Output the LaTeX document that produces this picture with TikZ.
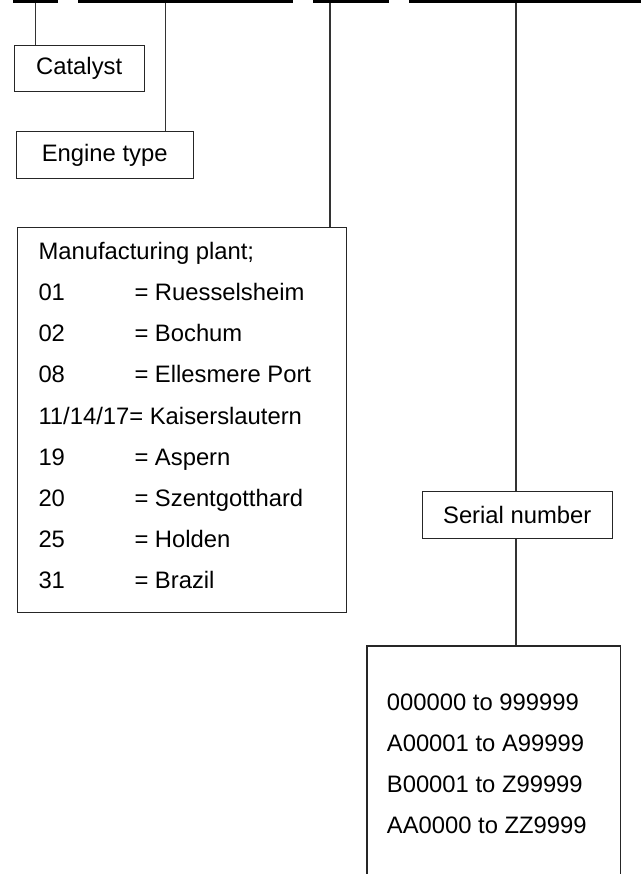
\documentclass[tikz,border=0pt]{standalone}
\usepackage{fontspec}
\setmainfont{Liberation Sans}
\begin{document}
\begin{tikzpicture}[x=1pt,y=-1pt,
  box/.style={draw=black!85, line width=1.1pt, inner sep=0pt, font=\fontsize{23.8}{28}\selectfont},
  txt/.style={inner sep=0pt, anchor=base west, font=\fontsize{23.8}{28}\selectfont},
  bar/.style={fill=black, inner sep=0pt, outer sep=0pt, anchor=north west},
  conn/.style={draw=black!80, line width=1.1pt}]
\clip (0,0) rectangle (644,874);
\fill[white] (0,0) rectangle (644,874);
% bars
\node[bar, minimum width=45.6pt, minimum height=3.3pt] (bar1) at (12.7,0) {};
\node[bar, minimum width=215.6pt, minimum height=3.3pt] (bar2) at (77.7,0) {};
\node[bar, minimum width=76.6pt, minimum height=3.3pt] (bar3) at (312.7,0) {};
\node[bar, minimum width=232.5pt, minimum height=3.3pt] (bar4) at (408.5,0) {};
% boxes
\node[box, minimum width=130.3pt, minimum height=46pt] (cat) at (79.2,68.3) {Catalyst\hspace{5pt}};
\node[box, minimum width=177.3pt, minimum height=47.4pt] (eng) at (104.7,155) {Engine type\hspace{19pt}};
\node[box, minimum width=329.4pt, minimum height=385.4pt] (man) at (182,420) {};
\node[box, minimum width=190.3pt, minimum height=46.3pt] (ser) at (517.2,514.9) {Serial number};
\node[box, minimum width=253.7pt, minimum height=254pt] (rng) at (493.85,773) {};
% manufacturing plant text
\node[txt] (m0) at (38.3,259.3) {Manufacturing plant;};
\node[txt] (n1) at (38.3,300.5) {01};
\node[txt] (p1) at (134.3,300.5) {= Ruesselsheim};
\node[txt] (n2) at (38.3,341.7) {02};
\node[txt] (p2) at (134.3,341.7) {= Bochum};
\node[txt] (n3) at (38.3,382.9) {08};
\node[txt] (p3) at (134.3,382.9) {= Ellesmere Port};
\node[txt] (n4) at (38.3,424.1) {11/14/17= Kaiserslautern};
\node[txt] (n5) at (38.3,465.3) {19};
\node[txt] (p5) at (134.3,465.3) {= Aspern};
\node[txt] (n6) at (38.3,506.5) {20};
\node[txt] (p6) at (134.3,506.5) {= Szentgotthard};
\node[txt] (n7) at (38.3,547.7) {25};
\node[txt] (p7) at (134.3,547.7) {= Holden};
\node[txt] (n8) at (38.3,588.9) {31};
\node[txt] (p8) at (134.3,588.9) {= Brazil};
% serial ranges
\node[txt] (r1) at (386.7,710) {000000 to 999999};
\node[txt] (r2) at (386.7,751) {A00001 to A99999};
\node[txt] (r3) at (386.7,792) {B00001 to Z99999};
\node[txt] (r4) at (386.7,833) {AA0000 to ZZ9999};
% connectors
\coordinate (e1) at (165.5,3.3);
\coordinate (m1) at (330,3.3);
\coordinate (s1) at (516,3.3);
\draw[conn] (bar1.south) -- (bar1.south |- cat.north);
\draw[conn] (e1) -- (e1 |- eng.north);
\draw[conn] (m1) -- (m1 |- man.north);
\draw[conn] (s1) -- (s1 |- ser.north);
\draw[conn] (ser.south -| s1) -- (s1 |- rng.north);
\end{tikzpicture}
\end{document}
